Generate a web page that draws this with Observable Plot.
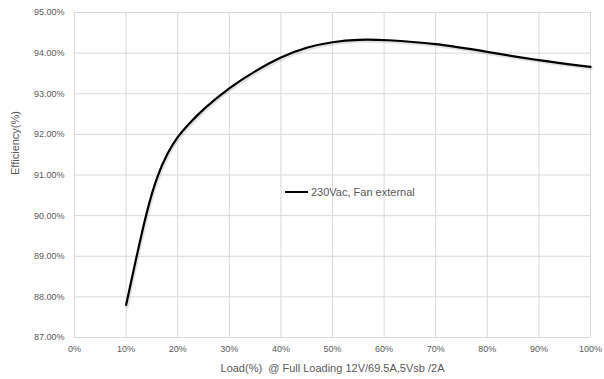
<!DOCTYPE html>
<html>
<head>
<meta charset="utf-8">
<script src="https://cdn.jsdelivr.net/npm/d3@7"></script>
<script src="https://cdn.jsdelivr.net/npm/@observablehq/plot@0.6"></script>
<style>
  html, body { margin: 0; padding: 0; background: #fff; }
  #wrap { position: relative; width: 604px; height: 379px; font-family: "Liberation Sans", "DejaVu Sans", sans-serif; }
  #legend { position: absolute; left: 285px; top: 186px; display: flex; align-items: center; font-size: 11px; color: #595959; }
  #legend .sw { width: 23px; height: 0; border-top: 2.5px solid #000; margin-right: 3px; }
</style>
</head>
<body>
<div id="wrap"><div id="legend"><span class="sw"></span><span id="legendText"></span></div></div>
<script>
const seriesName = "230Vac, Fan external";
const load = [0.10, 0.12, 0.14, 0.16, 0.18, 0.20, 0.22, 0.25, 0.30, 0.35, 0.40, 0.45, 0.50, 0.55, 0.60, 0.70, 0.80, 0.90, 1.00];
const efficiency = [0.8780, 0.8898, 0.9012, 0.9098, 0.9154, 0.9195, 0.9224, 0.9263, 0.9315, 0.9356, 0.9391, 0.9415, 0.9428, 0.9434, 0.9433, 0.9424, 0.9403, 0.9382, 0.9366];
const xTicks = [0, 0.1, 0.2, 0.3, 0.4, 0.5, 0.6, 0.7, 0.8, 0.9, 1.0];
const yTicks = [0.87, 0.88, 0.89, 0.90, 0.91, 0.92, 0.93, 0.94, 0.95];
const xLabel = "Load(%)  @ Full Loading 12V/69.5A,5Vsb /2A";
const yLabel = "Efficiency(%)";

const data = load.map((x, i) => ({x, y: efficiency[i]}));
document.getElementById("legendText").textContent = seriesName;

const chart = Plot.plot({
  width: 604,
  height: 379,
  marginLeft: 74,
  marginRight: 14,
  marginTop: 12,
  marginBottom: 42,
  style: { fontFamily: "Liberation Sans, DejaVu Sans, sans-serif", fontSize: "9px", color: "#595959", background: "#fff" },
  x: { domain: [0, 1], ticks: xTicks, tickFormat: d3.format(".0%"), tickSize: 0, tickPadding: 10, label: null },
  y: { domain: [0.87, 0.95], ticks: yTicks, tickFormat: d3.format(".2%"), tickSize: 0, tickPadding: 10, label: null },
  marks: [
    Plot.gridX(xTicks, { stroke: "#d9d9d9", strokeOpacity: 1, strokeWidth: 1 }),
    Plot.gridY(yTicks, { stroke: "#d9d9d9", strokeOpacity: 1, strokeWidth: 1 }),
    Plot.axisX({ ticks: xTicks, tickFormat: d3.format(".0%"), tickSize: 0, tickPadding: 8, label: null, fill: "#595959" }),
    Plot.axisY({ ticks: yTicks, tickFormat: d3.format(".2%"), tickSize: 0, tickPadding: 10, label: null, fill: "#595959" }),
    Plot.line(data, { x: "x", y: "y", curve: "basis", stroke: "#888", strokeOpacity: 0.25, strokeWidth: 3, dx: 1, dy: 1.5 }),
    Plot.line(data, { x: "x", y: "y", curve: "basis", stroke: "#000", strokeWidth: 2.2 }),
    Plot.text([xLabel], { frameAnchor: "bottom", dy: 34, fontSize: 11, fill: "#595959" }),
    Plot.text([yLabel], { frameAnchor: "left", dx: -59, rotate: -90, fontSize: 11, fill: "#595959" })
  ]
});
document.getElementById("wrap").prepend(chart);
</script>
</body>
</html>
